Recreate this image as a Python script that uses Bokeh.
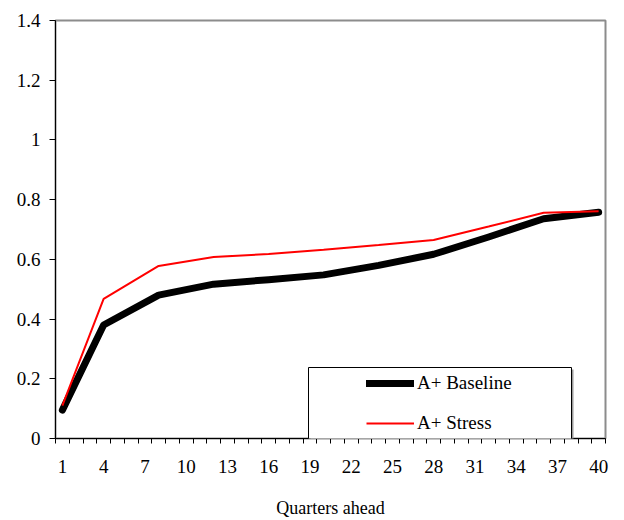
from bokeh.plotting import figure
from bokeh.models import Range1d, FixedTicker, Legend, LegendItem, BoxAnnotation
from bokeh.embed import file_html
from bokeh.resources import INLINE

# ---- data ----
quarters = [1, 4, 8, 12, 16, 20, 24, 28, 32, 36, 40]
baseline = [0.095, 0.38, 0.48, 0.517, 0.532, 0.548, 0.58, 0.617, 0.675, 0.736, 0.758]
stress = [0.11, 0.468, 0.578, 0.608, 0.618, 0.632, 0.648, 0.665, 0.71, 0.756, 0.761]
x_tick_values = [1, 4, 7, 10, 13, 16, 19, 22, 25, 28, 31, 34, 37, 40]
y_tick_values = [0, 0.2, 0.4, 0.6, 0.8, 1.0, 1.2, 1.4]
y_tick_labels = ["0", "0.2", "0.4", "0.6", "0.8", "1", "1.2", "1.4"]
n_categories = 40

FONT = "Liberation Serif"

p = figure(width=616, height=520, output_backend="svg", toolbar_location=None,
           x_range=Range1d(0.5, n_categories + 0.5), y_range=Range1d(0, 1.4),
           min_border_left=55, min_border_right=11, min_border_top=20, min_border_bottom=82)

p.background_fill_color = "white"
p.border_fill_color = "white"
p.outline_line_color = "#8c8c8c"
p.outline_line_width = 2
p.xgrid.visible = False
p.ygrid.visible = False

# x axis: labels at category centres, tick marks at category boundaries
xa = p.xaxis[0]
xa.ticker = FixedTicker(ticks=x_tick_values,
                        minor_ticks=[i + 0.5 for i in range(0, n_categories + 1)])
xa.major_tick_line_color = None
xa.minor_tick_line_color = "black"
xa.minor_tick_out = 5
xa.minor_tick_in = 0
xa.axis_line_color = "black"
xa.major_label_text_font = FONT
xa.major_label_text_font_size = "19px"
xa.major_label_text_color = "black"
xa.major_label_standoff = 15
xa.axis_label = "Quarters ahead"
xa.axis_label_text_font = FONT
xa.axis_label_text_font_size = "18px"
xa.axis_label_text_font_style = "normal"
xa.axis_label_text_color = "black"
xa.axis_label_standoff = 22

ya = p.yaxis[0]
ya.ticker = FixedTicker(ticks=y_tick_values, minor_ticks=[])
ya.major_label_overrides = {v: l for v, l in zip(y_tick_values, y_tick_labels)}
ya.major_tick_out = 6
ya.major_tick_in = 0
ya.major_tick_line_color = "black"
ya.minor_tick_line_color = None
ya.axis_line_color = "black"
ya.major_label_text_font = FONT
ya.major_label_text_font_size = "19px"
ya.major_label_text_color = "black"
ya.major_label_standoff = 9

r_base = p.line(quarters, baseline, line_color="black", line_width=7,
                line_cap="round", line_join="round")
r_stress = p.line(quarters, stress, line_color="#ff0000", line_width=2)

# legend frame
shadow = BoxAnnotation(left=255, right=518, bottom=-6, top=69,
                       left_units="screen", right_units="screen",
                       bottom_units="screen", top_units="screen",
                       fill_color="#9a9a9a", fill_alpha=1, line_color=None, level="overlay")
box = BoxAnnotation(left=253, right=516, bottom=-4, top=71,
                    left_units="screen", right_units="screen",
                    bottom_units="screen", top_units="screen",
                    fill_color="white", fill_alpha=1, line_color="black", line_width=1,
                    line_alpha=1, level="overlay")
p.add_layout(shadow)
p.add_layout(box)

legend = Legend(items=[LegendItem(label="A+ Baseline", renderers=[r_base]),
                       LegendItem(label="A+ Stress", renderers=[r_stress])],
                location=(311, 2), padding=0, margin=0, spacing=14,
                glyph_width=48, glyph_height=26, label_height=26, label_standoff=3,
                label_text_font=FONT, label_text_font_size="19px",
                label_text_color="black",
                border_line_alpha=0, background_fill_alpha=0)
p.add_layout(legend, "center")

open("out.html", "w").write(file_html(p, INLINE))
